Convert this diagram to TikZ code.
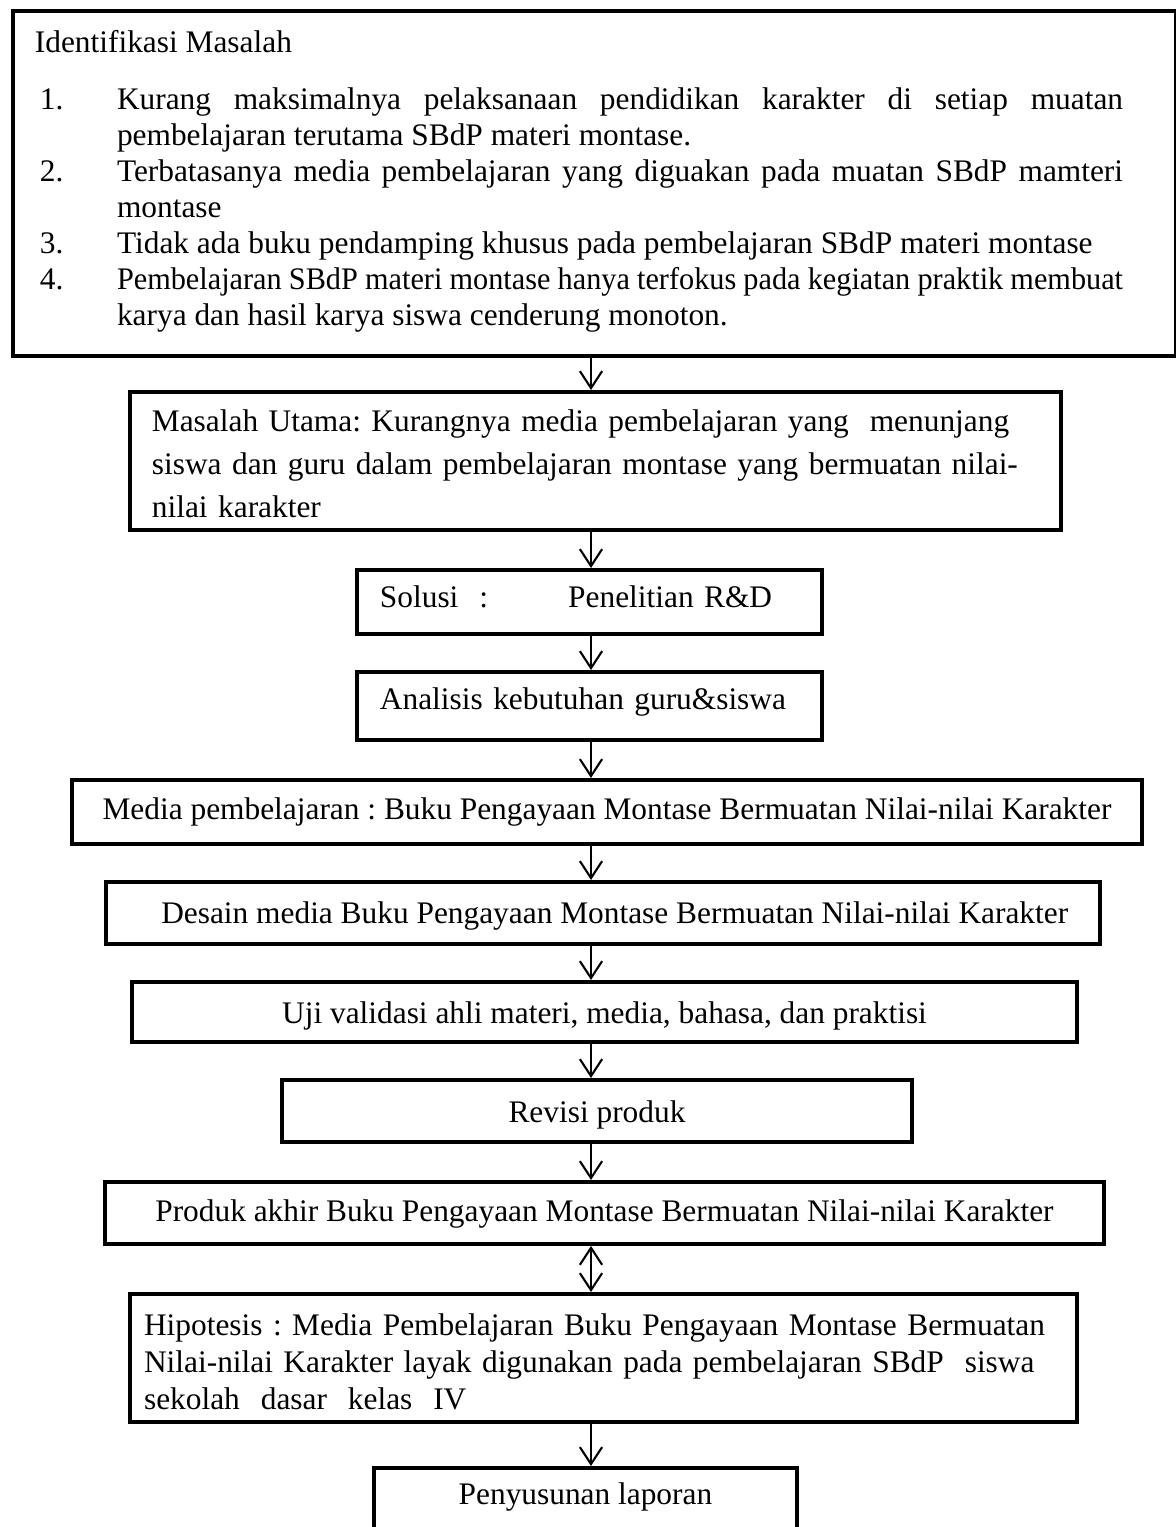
\documentclass[tikz,border=0pt]{standalone}
\usepackage{fontspec}
\setmainfont{Liberation Serif}
\usetikzlibrary{arrows.meta,positioning,calc}
\newcommand{\numitem}[2]{\par\hangindent=31.4pt\hangafter=1\noindent\makebox[31.4pt][l]{\hspace{1.9pt}#1}#2}
\tikzset{box/.style={draw=black,line width=1.5pt,inner xsep=0pt,inner ysep=0pt,anchor=north west,font=\fontsize{12}{13.8}\selectfont},leftbox/.style={box,align=left},flow/.style={-{Straight Barb[length=6.5pt,width=8.5pt]},line width=0.8pt,draw=black},twoflow/.style={flow,{Straight Barb[length=6.5pt,width=8.5pt]}-{Straight Barb[length=6.5pt,width=8.5pt]}}}
\begin{document}
\frenchspacing
\begin{tikzpicture}[x=0.3825pt,y=-0.3825pt]
\useasboundingbox (0,0) rectangle (1176,1527);
\coordinate (axis) at (591,0);
\node[box,align=justify,text width=428pt,inner xsep=8.4pt,text height=15.7pt,text depth=116.3pt] (ident) at (11,9) {\rightskip=11.8pt\spaceskip=3pt plus 18pt minus 2pt\relax
Identifikasi Masalah\par\vspace{8pt}
\numitem{1.}{Kurang maksimalnya pelaksanaan pendidikan karakter di setiap muatan\linebreak pembelajaran terutama SBdP materi montase.}
\numitem{2.}{Terbatasanya media pembelajaran yang diguakan pada muatan SBdP mamteri\linebreak montase}
\numitem{3.}{Tidak ada buku pendamping khusus pada pembelajaran SBdP materi montase}
\numitem{4.}{{\addfontfeature{FakeStretch=0.965}Pembelajaran SBdP materi montase hanya terfokus pada kegiatan praktik membuat}\linebreak karya dan hasil karya siswa cenderung monoton.}\par};
\node[leftbox,text width=339.3pt,inner xsep=8.4pt,text height=15.3pt,text depth=37.5pt,font=\fontsize{12}{16.3}\selectfont] (masalah) at (128,390) {\mbox{Masalah Utama: Kurangnya media pembelajaran yang\ \ menunjang}\\\mbox{siswa dan guru dalam pembelajaran montase yang bermuatan nilai-}\\\mbox{nilai karakter}};
\node[leftbox,text width=160.3pt,inner xsep=8.8pt,text height=14.5pt,text depth=9.9pt] (solusi) at (355,568) {\makebox[72pt][l]{Solusi\ \ :}Penelitian R\&D};
\node[leftbox,text width=160.3pt,inner xsep=8.8pt,text height=14.5pt,text depth=11.5pt] (analisis) at (355,670) {Analisis kebutuhan guru\&siswa};
\node[box,minimum width=409.3pt,text height=15.3pt,text depth=9.2pt] (media) at (70,778) {Media pembelajaran : Buku Pengayaan Montase Bermuatan Nilai-nilai Karakter};
\node[box,minimum width=380.2pt,text height=15.7pt,text depth=8pt] (desain) at (104,880) {\hspace*{9pt}Desain media Buku Pengayaan Montase Bermuatan Nilai-nilai Karakter};
\node[box,minimum width=361.5pt,text height=15.7pt,text depth=7.3pt] (uji) at (130,980) {Uji validasi ahli materi, media, bahasa, dan praktisi};
\node[box,minimum width=241pt,text height=16.1pt,text depth=7.7pt] (revisi) at (280,1078) {Revisi produk};
\node[box,minimum width=382.1pt,text height=15.3pt,text depth=8.4pt] (produk) at (103,1180) {Produk akhir Buku Pengayaan Montase Bermuatan Nilai-nilai Karakter};
\node[leftbox,text width=351.5pt,inner xsep=5.4pt,text height=15.7pt,text depth=33.3pt,font=\fontsize{12}{14.2}\selectfont] (hipotesis) at (128,1292) {\mbox{Hipotesis : Media Pembelajaran Buku Pengayaan Montase Bermuatan}\\\mbox{Nilai-nilai Karakter layak digunakan pada pembelajaran SBdP\ \ siswa}\\\mbox{sekolah\ \ dasar\ \ kelas\ \ IV}};
\node[box,minimum width=161.8pt,text height=13.8pt,text depth=30.6pt] (laporan) at (372,1466) {Penyusunan laporan};
\draw[flow] (ident.south -| axis)--(masalah.north -| axis);\draw[flow] (masalah.south -| axis)--(solusi.north -| axis);
\draw[flow] (solusi.south -| axis)--(analisis.north -| axis);\draw[flow] (analisis.south -| axis)--(media.north -| axis);
\draw[flow] (media.south -| axis)--(desain.north -| axis);\draw[flow] (desain.south -| axis)--(uji.north -| axis);
\draw[flow] (uji.south -| axis)--(revisi.north -| axis);\draw[flow] (revisi.south -| axis)--(produk.north -| axis);
\draw[twoflow] (produk.south -| axis)--(hipotesis.north -| axis);
\draw[flow] (hipotesis.south -| axis)--(laporan.north -| axis);
\end{tikzpicture}
\end{document}
